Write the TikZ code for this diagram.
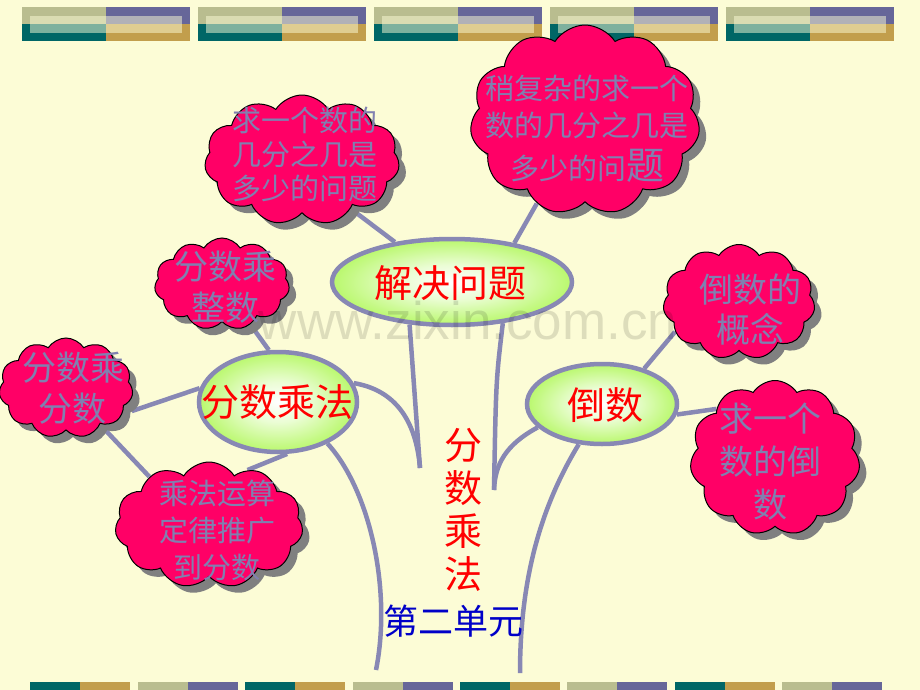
\documentclass[tikz,border=0pt]{standalone}
\usepackage{fontspec}
\newfontfamily\cjk{Noto Sans CJK SC}
\newfontfamily\wmfont{Liberation Sans}
\usetikzlibrary{shapes.symbols,shapes.geometric,shadows}
\pgfdeclarelayer{back}
\pgfdeclarelayer{mid}
\pgfsetlayers{back,mid,main}

\definecolor{bg}{RGB}{252,252,214}
\definecolor{olv}{RGB}{185,189,143}
\definecolor{purp}{RGB}{102,102,153}
\definecolor{tealb}{RGB}{0,102,102}
\definecolor{tanb}{RGB}{194,158,76}
\definecolor{ast}{RGB}{136,136,180}
\definecolor{wolke}{RGB}{255,0,102}
\definecolor{wtext}{RGB}{128,128,176}
\definecolor{gruen}{RGB}{155,245,45}
\definecolor{blau}{RGB}{0,0,200}

\pgfdeclareradialshading{topicshade}{\pgfpoint{0bp}{0bp}}{%
  color(0bp)=(white); color(10bp)=(white!80!gruen); color(22bp)=(white!40!gruen); color(34bp)=(gruen); color(50bp)=(gruen)}

\tikzset{
  branch/.style={line width=4.5pt, color=ast},
  cloudbox/.style={cloud, cloud puffs=11, cloud puff arc=115, cloud ignores aspect,
    draw=black, line width=1pt, fill=wolke, inner sep=0pt,
    drop shadow={shadow xshift=7pt, shadow yshift=-7pt, fill=gray, opacity=1}},
  cloudtext/.style={text=wtext, align=center, inner sep=0pt, font=\cjk\fontsize{29}{35}\selectfont},
  bigtext/.style={cloudtext, font=\cjk\fontsize{34}{41}\selectfont},
  topic/.style={ellipse, draw=ast, line width=4.5pt, shading=topicshade, inner sep=0pt},
  topictext/.style={text=red, inner sep=0pt, font=\cjk\fontsize{38}{38}\selectfont},
}

\begin{document}
\begin{tikzpicture}[x=1pt,y=-1pt]
	\useasboundingbox (0,0) rectangle (920,690);
	\begin{pgfonlayer}{back}
	\fill[bg] (0,0) rectangle (920,690);
	%Leisten oben
	\foreach \xa in {22,198,374,550,726}{
		\fill[olv] (\xa,7) rectangle ++(84,17);
		\fill[purp] (\xa+84,7) rectangle ++(84,17);
		\fill[tealb] (\xa,24) rectangle ++(84,17);
		\fill[tanb] (\xa+84,24) rectangle ++(84,17);
		\fill[bg,opacity=.5] (\xa+8,16) rectangle ++(152,17);
	}
	%Leisten unten
	\foreach \xb in {30,245,460,675}{
		\fill[tealb] (\xb,682) rectangle ++(50,8);
		\fill[tanb] (\xb+50,682) rectangle ++(50,8);
	}
	\foreach \xb in {138,353,567,782}{
		\fill[olv] (\xb,682) rectangle ++(50,8);
		\fill[purp] (\xb+50,682) rectangle ++(50,8);
	}
	\end{pgfonlayer}

	%Hauptthemen
	\node[topic, minimum width=240pt, minimum height=86pt] (e1) at (452,282) {};
	\node[topictext] (e1t) at (450,283) {解决问题};
	\node[topic, minimum width=158pt, minimum height=100pt] (e2) at (278,402) {};
	\node[topictext] (e2t) at (277,402) {分数乘法};
	\node[topic, minimum width=150pt, minimum height=80pt] (e3) at (602,404) {};
	\node[topictext] (e3t) at (605,405) {倒数};

	%Wolken
	\node[cloudbox, minimum width=195pt, minimum height=130pt] (c1) at (302,160) {};
	\node[cloudtext, font=\cjk\fontsize{29}{34}\selectfont] (c1t) at (305,154) {求一个数的\\几分之几是\\多少的问题};
	\node[cloudbox, minimum width=230pt, minimum height=190pt] (c2) at (585,120) {};
	\node[cloudtext, font=\cjk\fontsize{29}{37}\selectfont] (c2t) at (587,129) {稍复杂的求一个\\数的几分之几是\\[6pt]多少的问{\fontsize{38}{38}\selectfont 题}};
	\node[cloudbox, minimum width=135pt, minimum height=92pt] (c3) at (222,284) {};
	\node[bigtext] (c3t) at (225,287) {分数乘\\整数};
	\node[cloudbox, minimum width=134pt, minimum height=100pt] (c4) at (66,388) {};
	\node[bigtext] (c4t) at (73,388) {分数乘\\分数};
	\node[cloudbox, minimum width=188pt, minimum height=126pt] (c5) at (209,525) {};
	\node[cloudtext, font=\cjk\fontsize{29}{37}\selectfont] (c5t) at (217,530) {乘法运算\\定律推广\\到分数};
	\node[cloudbox, minimum width=152pt, minimum height=115pt] (c6) at (739,302) {};
	\node[bigtext, font=\cjk\fontsize{34}{40}\selectfont] (c6t) at (750,310) {倒数的\\概念};
	\node[cloudbox, minimum width=170pt, minimum height=155pt] (c7) at (775,458) {};
	\node[bigtext, font=\cjk\fontsize{34}{43}\selectfont] (c7t) at (770,462) {求一个\\数的倒\\数};

	%Titel
	\node[topictext, align=center, font=\cjk\fontsize{38}{43}\selectfont] (titel) at (463,510) {分\\数\\乘\\法};
	\node[text=blau, inner sep=0pt, font=\cjk\fontsize{35}{35}\selectfont] (einheit) at (453,621) {第二单元};

	%Stamm und Aeste
	\coordinate (jl) at (420,468);
	\coordinate (jr) at (494,490);
	\coordinate (tl) at (376,670);
	\coordinate (tr) at (520,673);
	\begin{pgfonlayer}{mid}
	\draw[branch] (c1.-45) -- (e1.145);
	\draw[branch] (c2.-120) -- (e1.32);
	\draw[branch] (e1.-135) -- (jl);
	\draw[branch] (e2.14) .. controls (395,390) and (416,420) .. (jl);
	\draw[branch] (e1.-39) .. controls (496,380) .. (jr);
	\draw[branch] (e3.200) .. controls (505,445) and (495,465) .. (jr);
	\draw[branch] (e2.-40) .. controls (370,490) and (392,590) .. (tl);%Stamm links
	\draw[branch] (e3.-120) .. controls (545,500) and (520,570) .. (tr);%Stamm rechts
	\draw[branch] (c3.-55) -- (e2.100);
	\draw[branch, shorten <=10pt] (c4.-25) -- (e2.170);
	\draw[branch] (c4.-47) -- (c5.141);
	\draw[branch] (c5.55) -- (e2.-80);
	\draw[branch] (e3.40) -- (c6.205);
	\draw[branch] (e3.-8) -- (c7.140);
	\end{pgfonlayer}

	%Wasserzeichen
	\node[text=black, opacity=.12, inner sep=0pt, font=\wmfont\fontsize{53}{53}\selectfont] (wm) at (468,321) {www.zixin.com.cn};
\end{tikzpicture}
\end{document}
